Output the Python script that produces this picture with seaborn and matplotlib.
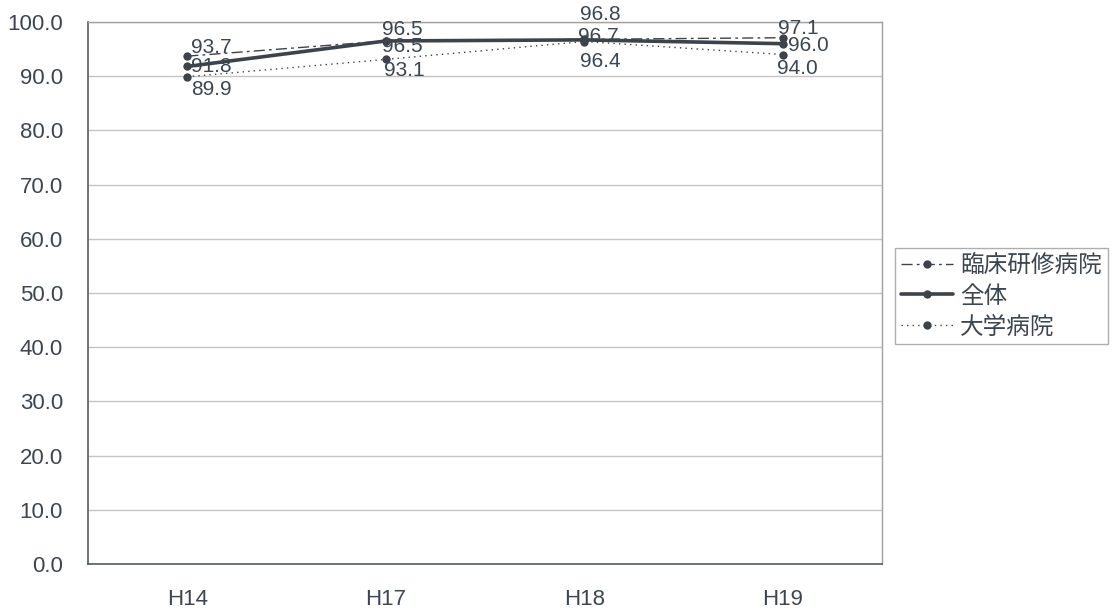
import matplotlib
matplotlib.use("Agg")
import matplotlib.pyplot as plt
import seaborn as sns
import pandas as pd
import numpy as np

categories = ["H14", "H17", "H18", "H19"]
rinsho = [93.7, 96.5, 96.8, 97.1]
zentai = [91.8, 96.5, 96.7, 96.0]
daigaku = [89.9, 93.1, 96.4, 94.0]
series_names = ["臨床研修病院", "全体", "大学病院"]
y_ticks = [0, 10, 20, 30, 40, 50, 60, 70, 80, 90, 100]

sns.set_theme(style="white")
plt.rcParams['font.family'] = ['Liberation Sans', 'Noto Sans CJK JP', 'DejaVu Sans']

txt = "#3c4650"
line_c = "#3e434a"

fig = plt.figure(figsize=(11.16, 6.13), dpi=100)
ax = fig.add_axes([88/1116, 1-564/613, (882-88)/1116, (564-22)/613])

x = np.arange(len(categories))
df = pd.DataFrame({
    "x": np.tile(x, 3),
    "value": rinsho + zentai + daigaku,
    "series": np.repeat(series_names, len(categories)),
})

styles = {
    "臨床研修病院": dict(lw=1.0, dashes=(8, 3, 2, 3)),
    "全体": dict(lw=2.6, dashes=None),
    "大学病院": dict(lw=1.0, dashes=(1, 3)),
}
label_offsets = {
    "臨床研修病院": [(24, 9), (17, 11), (16, 25), (16, 9)],
    "全体": [(24, 0), (17, -6), (14, 3), (26, -2)],
    "大学病院": [(24, -13), (19, -11), (16, -20), (15, -14)],
}

handles = []
for name in series_names:
    sub = df[df["series"] == name]
    st = styles[name]
    sns.lineplot(data=sub, x="x", y="value", ax=ax, color=line_c,
                 linewidth=st["lw"], marker="o", markersize=6,
                 markeredgewidth=0, markerfacecolor=line_c, label=name,
                 legend=False)
    ln = ax.lines[-1]
    if st["dashes"] is not None:
        ln.set_dashes(st["dashes"])
    handles.append(ln)
    for xi, v, off in zip(sub["x"], sub["value"], label_offsets[name]):
        ax.annotate(f"{v:.1f}", (xi, v), xytext=off, textcoords="offset pixels",
                    ha="center", va="center", fontsize=15, color=txt)

ax.set_xlim(-0.5, len(categories) - 0.5)
ax.set_ylim(0, 100)
ax.set_yticks(y_ticks)
ax.set_yticklabels([f"{v:.1f}" for v in y_ticks], fontsize=16, color=txt)
ax.set_xticks(x)
ax.set_xticklabels(categories, fontsize=16, color=txt)
ax.set_xticks(np.arange(len(categories) - 1) + 0.5, minor=True)
ax.tick_params(axis="y", length=0, pad=18)
ax.tick_params(axis="x", which="major", length=0, pad=18)
ax.tick_params(axis="x", which="minor", direction="in", length=6, width=0.8, color="#888888")
ax.set_xlabel("")
ax.set_ylabel("")
ax.yaxis.grid(True, color="#c4c4c4", linewidth=1.0)
ax.xaxis.grid(False)
for s in ["left", "bottom"]:
    ax.spines[s].set_color("#555a60")
    ax.spines[s].set_linewidth(1.2)
for s in ["top", "right"]:
    ax.spines[s].set_color("#a0a0a0")
    ax.spines[s].set_linewidth(1.0)

leg = fig.legend(handles=handles, labels=series_names, loc="upper left",
                 bbox_to_anchor=(895/1116, 1-248/613), frameon=True,
                 fancybox=False, handlelength=2.2, handletextpad=0.3,
                 borderpad=0.25, labelspacing=0.33, borderaxespad=0,
                 prop={"family": ["Noto Sans CJK JP", "DejaVu Sans"], "size": 17})
leg.get_frame().set_edgecolor("#9a9a9a")
leg.get_frame().set_linewidth(1.0)
for t in leg.get_texts():
    t.set_color(txt)

fig.savefig("out.png", dpi=100)
